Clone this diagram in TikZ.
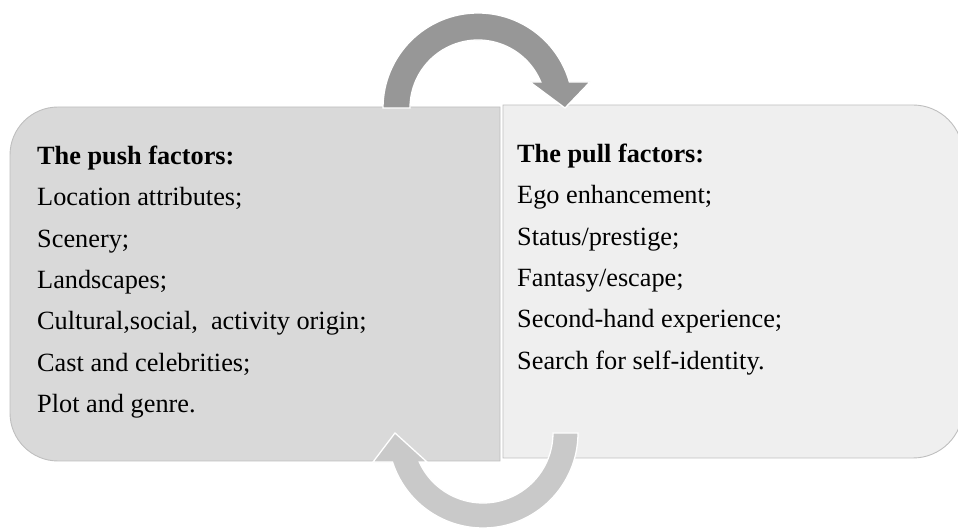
\documentclass[tikz,border=0pt]{standalone}
\usepackage{fontspec}
\setmainfont{Liberation Serif}
\definecolor{pushfill}{HTML}{D9D9D9}
\definecolor{pullfill}{HTML}{EFEFEF}
\definecolor{darkturn}{HTML}{979797}
\definecolor{lightturn}{HTML}{C9C9C9}

\begin{document}
\begin{tikzpicture}[x=1pt, y=1pt]
	\tikzstyle{box}=[draw=black!25, line width=0.9pt]
	\tikzstyle{turn}=[draw=white, line width=1.3pt]
	\tikzstyle{factor}=[anchor=north west, inner sep=0pt, align=left, text=black,
		font=\fontsize{26.3}{41.3}\selectfont]
	\useasboundingbox (0,0) rectangle (958,530);
	% push box, round on the left
	\path[box, fill=pushfill] (500,423) -- (58,423)
		arc[start angle=90, end angle=180, radius=48] -- (10,117)
		arc[start angle=180, end angle=270, radius=48] -- (500,69) -- cycle;
	% pull box, round on the right
	\path[box, fill=pullfill] (503,425) -- (913,425)
		arc[start angle=90, end angle=0, radius=50] -- (963,122)
		arc[start angle=0, end angle=-90, radius=50] -- (503,72) -- cycle;
	% turning arrows
	\path[turn, fill=darkturn] (383,422)
		arc[start angle=180, end angle=15.9, radius=95]
		-- (590,448) -- (565,422) -- (530,448) -- (540.8,448)
		arc[start angle=22.5, end angle=180, radius=68] -- cycle;
	\path[turn, fill=lightturn] (578,97)
		arc[start angle=0, end angle=-162.2, radius=95]
		-- (373,68) -- (395,97) -- (427,68) -- (419.3,68)
		arc[start angle=-155.5, end angle=0, radius=70] -- cycle;
	\node[factor] (push) at (37,384.1) {\textbf{The push factors:}\\
		Location attributes;\\
		Scenery;\\
		Landscapes;\\
		Cultural,social,\ \ activity origin;\\
		Cast and celebrities;\\
		Plot and genre.};
	\node[factor] (pull) at (517,386.1) {\textbf{The pull factors:}\\
		Ego enhancement;\\
		Status/prestige;\\
		Fantasy/escape;\\
		Second-hand experience;\\
		Search for self-identity.};
\end{tikzpicture}
\end{document}
